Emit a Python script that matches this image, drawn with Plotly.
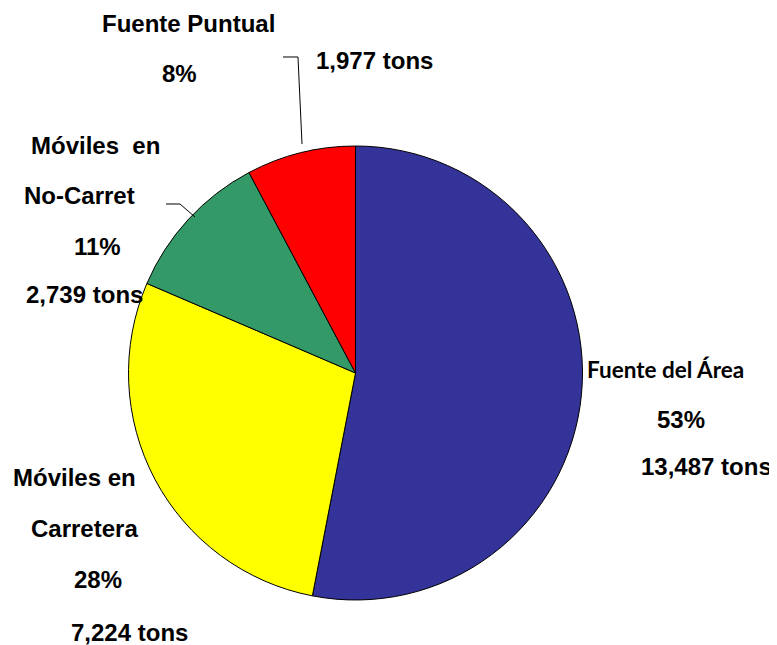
import plotly.graph_objects as go

categories = ["Fuente del Área", "Móviles en Carretera", "Móviles en No-Carret", "Fuente Puntual"]
tons = [13487, 7224, 2739, 1977]
percent_labels = ["53%", "28%", "11%", "8%"]
tons_labels = ["13,487 tons", "7,224 tons", "2,739 tons", "1,977 tons"]
colors = ["#333399", "#FFFF00", "#339966", "#FF0000"]

OFF = 8  # page body margin offset
W, H = 777 - OFF, 645 - OFF

def fx(px):
    return (px - OFF) / W

def fy(py):
    return 1 - (py - OFF) / H

R = 227
CX, CY = 355.5, 373

fig = go.Figure(go.Pie(
    labels=categories,
    values=tons,
    sort=False,
    direction="clockwise",
    rotation=0,
    textinfo="none",
    hoverinfo="label+value+percent",
    marker=dict(colors=colors, line=dict(color="black", width=1)),
    domain=dict(x=[fx(CX - R), fx(CX + R)],
                y=[fy(CY + R), fy(CY - R)]),
    showlegend=False,
))

arial = dict(family="Liberation Sans, Arial, sans-serif", size=24, color="black")
calibri = dict(family="Lato, Carlito, Calibri, sans-serif", size=22.5, color="black")

def ann(text, px, py, font, xanchor="center"):
    fig.add_annotation(text="<b>%s</b>" % text, x=fx(px), y=fy(py), xref="paper", yref="paper",
                       xanchor=xanchor, yanchor="middle", showarrow=False, font=font,
                       borderpad=0)

ann("Fuente Puntual", 188, 23, arial)
ann(percent_labels[3], 179, 73, arial)
ann(tons_labels[3], 374, 61, arial)
ann("Móviles  en", 95, 146, arial)
ann("No-Carret", 79, 196, arial)
ann(percent_labels[2], 97, 246, arial)
ann(tons_labels[2], 84, 294, arial)
ann(categories[0], 665, 369, calibri)
ann(percent_labels[0], 681, 419, arial)
ann(tons_labels[0], 706, 466, arial)
ann("Móviles en", 74, 477, arial)
ann("Carretera", 84, 528, arial)
ann(percent_labels[1], 98, 579, arial)
ann(tons_labels[1], 129, 632, arial)

def line(pts):
    path = "M " + " L ".join("%f,%f" % (fx(x), fy(y)) for x, y in pts)
    fig.add_shape(type="path", path=path, xref="paper", yref="paper",
                  line=dict(color="black", width=1))

line([(283, 57), (298, 57), (302, 144)])
line([(166, 204), (180, 204), (195, 217)])

fig.update_layout(width=W, height=H, margin=dict(l=0, r=0, t=0, b=0),
                  paper_bgcolor="white", plot_bgcolor="white")

fig.write_html("out.html")
